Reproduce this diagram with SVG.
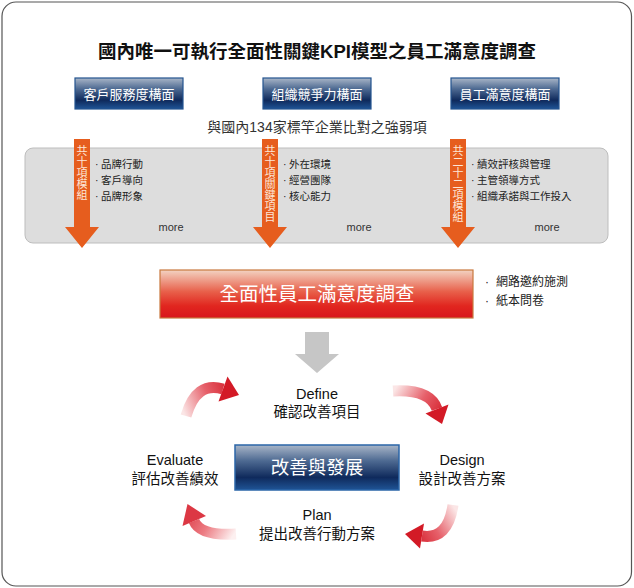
<svg xmlns="http://www.w3.org/2000/svg" width="634" height="588" viewBox="0 0 634 588">
<defs>
<linearGradient id="gBtn" x1="0" y1="0" x2="0" y2="1">
<stop offset="0" stop-color="#a9b6c8"/>
<stop offset="0.35" stop-color="#4e6a92"/>
<stop offset="0.72" stop-color="#0f2a5c"/>
<stop offset="1" stop-color="#1f5496"/>
</linearGradient>
<linearGradient id="gRed" x1="0" y1="0" x2="0" y2="1">
<stop offset="0" stop-color="#f3d3c2"/>
<stop offset="0.45" stop-color="#e8604a"/>
<stop offset="0.75" stop-color="#e1261f"/>
<stop offset="1" stop-color="#d8161c"/>
</linearGradient>
<linearGradient id="a1" gradientUnits="userSpaceOnUse" x1="185" y1="416" x2="238" y2="394">
<stop offset="0" stop-color="#fbe6e6"/><stop offset="0.5" stop-color="#e6606a"/><stop offset="1" stop-color="#d31a26"/>
</linearGradient>
<linearGradient id="a2" gradientUnits="userSpaceOnUse" x1="394" y1="391" x2="442" y2="422">
<stop offset="0" stop-color="#fbe6e6"/><stop offset="0.5" stop-color="#e6606a"/><stop offset="1" stop-color="#d31a26"/>
</linearGradient>
<linearGradient id="a3" gradientUnits="userSpaceOnUse" x1="453" y1="506" x2="407" y2="534">
<stop offset="0" stop-color="#fbe6e6"/><stop offset="0.5" stop-color="#e6606a"/><stop offset="1" stop-color="#d31a26"/>
</linearGradient>
<linearGradient id="a4" gradientUnits="userSpaceOnUse" x1="234" y1="534" x2="188" y2="506">
<stop offset="0" stop-color="#fdf0f0"/><stop offset="0.5" stop-color="#ec7b82"/><stop offset="1" stop-color="#dc3844"/>
</linearGradient>
</defs>
<style>
text{font-family:"Liberation Sans","Noto Sans CJK TC",sans-serif}
.btn rect{fill:url(#gBtn);stroke:#24548f;stroke-width:1.2}
.btn text{fill:#fff;font-size:13px;text-anchor:middle}
.li{font-size:10.5px;fill:#222}
.more{font-size:11px;fill:#333;text-anchor:middle}
.lbl{font-size:14.5px;fill:#111;text-anchor:middle}
.oa{fill:#e65d1e}
.ot{fill:#fde6d6;font-size:11px;text-anchor:middle}
</style>
<rect x="2" y="2" width="629.5" height="584" rx="14" fill="#fff" stroke="#555" stroke-width="1.2"/>

<g id="title"><text x="317" y="58" font-size="18.5" font-weight="bold" text-anchor="middle" fill="#111">國內唯一可執行全面性關鍵KPI模型之員工滿意度調查</text></g>

<g id="btn1" class="btn"><rect x="75" y="78" width="108" height="31"/><text x="129" y="98.5">客戶服務度構面</text></g>
<g id="btn2" class="btn"><rect x="263" y="78" width="108" height="31"/><text x="317" y="98.5">組織競爭力構面</text></g>
<g id="btn3" class="btn"><rect x="451" y="78" width="108" height="31"/><text x="505" y="98.5">員工滿意度構面</text></g>

<g id="subtitle"><text x="317" y="132" font-size="14" text-anchor="middle" fill="#333">與國內134家標竿企業比對之強弱項</text></g>

<g id="panel"><rect x="25" y="148" width="583" height="95" rx="8" fill="#dddddd" stroke="#bdbdbd" stroke-width="1"/></g>

<g id="list1">
<text class="li" x="95" y="168">·</text><text class="li" x="101" y="168">品牌行動</text>
<text class="li" x="95" y="184">·</text><text class="li" x="101" y="184">客戶導向</text>
<text class="li" x="95" y="200">·</text><text class="li" x="101" y="200">品牌形象</text>
<text class="more" x="171" y="231">more</text>
</g>
<g id="list2">
<text class="li" x="283" y="168">·</text><text class="li" x="289" y="168">外在環境</text>
<text class="li" x="283" y="184">·</text><text class="li" x="289" y="184">經營團隊</text>
<text class="li" x="283" y="200">·</text><text class="li" x="289" y="200">核心能力</text>
<text class="more" x="359" y="231">more</text>
</g>
<g id="list3">
<text class="li" x="471" y="168">·</text><text class="li" x="477" y="168">績效評核與管理</text>
<text class="li" x="471" y="184">·</text><text class="li" x="477" y="184">主管領導方式</text>
<text class="li" x="471" y="200">·</text><text class="li" x="477" y="200">組織承諾與工作投入</text>
<text class="more" x="547" y="231">more</text>
</g>

<g id="connectors">
<g id="oarrow1"><polygon class="oa" points="74,139 90,139 90,227 99,227 82,248 65,227 74,227"/>
<text class="ot"><tspan x="82" y="155">共</tspan><tspan x="82" y="166">十</tspan><tspan x="82" y="177">項</tspan><tspan x="82" y="188">模</tspan><tspan x="82" y="199">組</tspan></text></g>
<g id="oarrow2"><polygon class="oa" points="262,139 278,139 278,227 287,227 270,248 253,227 262,227"/>
<text class="ot"><tspan x="270" y="155">共</tspan><tspan x="270" y="166">十</tspan><tspan x="270" y="177">項</tspan><tspan x="270" y="188">關</tspan><tspan x="270" y="199">鍵</tspan><tspan x="270" y="210">項</tspan><tspan x="270" y="221">目</tspan></text></g>
<g id="oarrow3"><polygon class="oa" points="450,139 466,139 466,227 475,227 458,248 441,227 450,227"/>
<text class="ot"><tspan x="458" y="155">共</tspan><tspan x="458" y="166">二</tspan><tspan x="458" y="177">十</tspan><tspan x="458" y="188">二</tspan><tspan x="458" y="199">項</tspan><tspan x="458" y="210">模</tspan><tspan x="458" y="221">組</tspan></text></g>
<polygon id="grayarrow" points="305,332 329,332 329,354 339,354 317,373 295,354 305,354" fill="#c6c6c6"/>
<g id="cyc1"><path d="M186,416 Q196,381 223,389" fill="none" stroke="url(#a1)" stroke-width="11"/><polygon points="227.5,376.5 239,395 218.5,401.5" fill="#d31a26"/></g>
<g id="cyc2"><path d="M393,391 Q430,389 437,409" fill="none" stroke="url(#a2)" stroke-width="11"/><polygon points="425.5,413.5 442,424 448.5,404.5" fill="#d31a26"/></g>
<g id="cyc3"><path d="M453,505 Q448,540 422,536" fill="none" stroke="url(#a3)" stroke-width="11"/><polygon points="424,523.5 405,534 420,548.5" fill="#d31a26"/></g>
<g id="cyc4"><path d="M236,534 Q200,536 194,521" fill="none" stroke="url(#a4)" stroke-width="11"/><polygon points="206,516 187.5,504 182.5,526" fill="#dc3844"/></g>
</g>

<g id="survey"><rect x="160" y="270" width="313" height="48" fill="url(#gRed)" stroke="#c8783e" stroke-width="1.2"/>
<text x="317" y="301" font-size="19.5" fill="#fff" text-anchor="middle">全面性員工滿意度調查</text></g>
<g id="methods">
<text x="485" y="286" font-size="12" fill="#222">·</text><text x="496" y="286" font-size="12" fill="#222">網路邀約施測</text>
<text x="485" y="305" font-size="12" fill="#222">·</text><text x="496" y="305" font-size="12" fill="#222">紙本問卷</text>
</g>

<g id="core"><rect x="235" y="445" width="164" height="45" fill="url(#gBtn)" stroke="#2b66a8" stroke-width="1.5"/>
<text x="317" y="474" font-size="18.5" fill="#fff" text-anchor="middle">改善與發展</text></g>
<g id="define"><text class="lbl" x="317" y="399">Define</text><text class="lbl" x="317" y="417">確認改善項目</text></g>
<g id="design"><text class="lbl" x="462" y="465">Design</text><text class="lbl" x="462" y="484">設計改善方案</text></g>
<g id="plan"><text class="lbl" x="317" y="520">Plan</text><text class="lbl" x="317" y="539">提出改善行動方案</text></g>
<g id="evaluate"><text class="lbl" x="175" y="465">Evaluate</text><text class="lbl" x="175" y="484">評估改善績效</text></g>
</svg>
